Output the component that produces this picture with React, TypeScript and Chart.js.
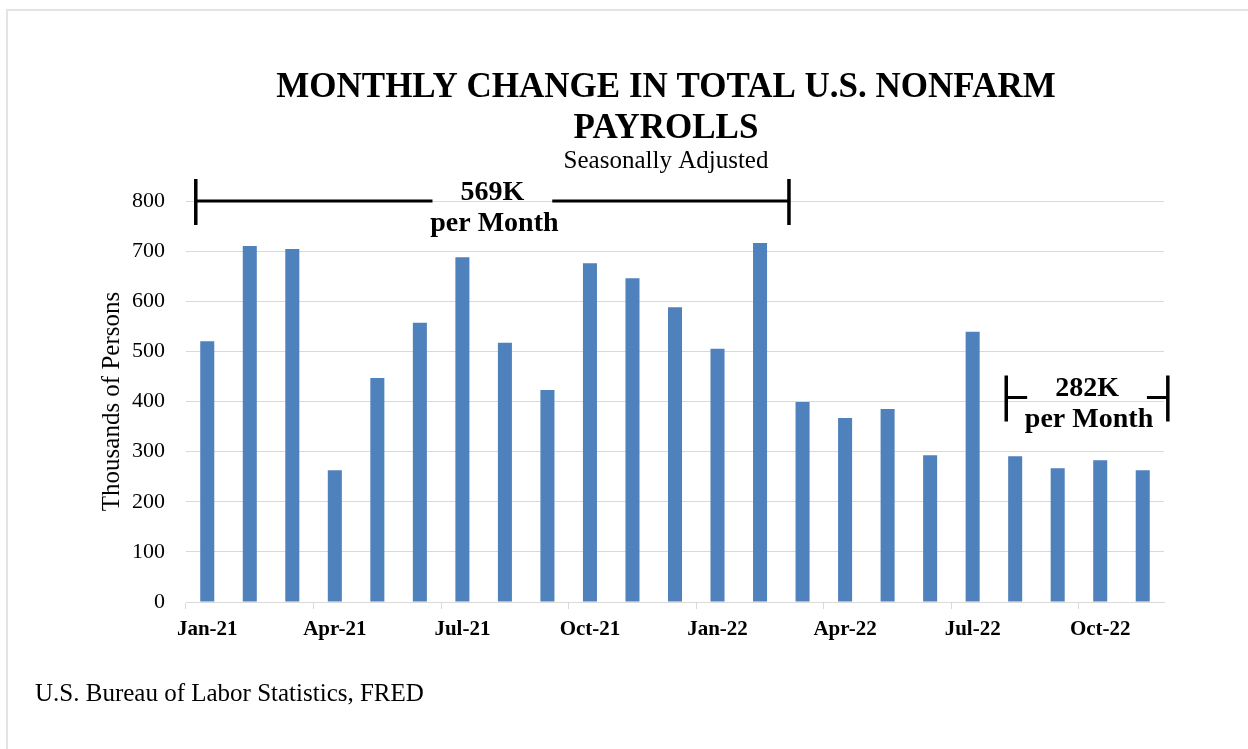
import React, { useEffect, useRef } from "react";
import { Chart, registerables } from "chart.js";

Chart.register(...registerables);

// ---- data ----
const months = [
  "Jan-21", "Feb-21", "Mar-21", "Apr-21", "May-21", "Jun-21", "Jul-21", "Aug-21",
  "Sep-21", "Oct-21", "Nov-21", "Dec-21", "Jan-22", "Feb-22", "Mar-22", "Apr-22",
  "May-22", "Jun-22", "Jul-22", "Aug-22", "Sep-22", "Oct-22", "Nov-22",
];
const payrollChange = [
  520, 710, 704, 263, 447, 557, 688, 517, 423, 676, 646, 588, 505, 716,
  399, 367, 385, 293, 539, 291, 267, 283, 263,
];
const yTicks = [0, 100, 200, 300, 400, 500, 600, 700, 800];
const labelEvery = 3;

const titleLines = ["MONTHLY CHANGE IN TOTAL U.S. NONFARM", "PAYROLLS"];
const subtitleText = "Seasonally Adjusted";
const yTitleText = "Thousands of Persons";
const sourceText = "U.S. Bureau of Labor Statistics, FRED";

// average brackets: span in category units, level in data units
const bracketLabels = ["569K", "282K"];
const bracketSubLabels = ["per Month", "per Month"];
const bracketFrom = [-0.27, 18.79];
const bracketTo = [13.68, 22.59];
const bracketLevel = [800, 408];

const SERIF = '"Liberation Serif", "Times New Roman", serif';

const decorPlugin = {
  id: "decor",
  beforeDraw(chart: any) {
    const ctx = chart.ctx;
    ctx.save();
    ctx.strokeStyle = "#e4e4e4";
    ctx.lineWidth = 2;
    ctx.strokeRect(7, 10, 1400, 900);
    ctx.restore();
  },
  afterDraw(chart: any) {
    const ctx = chart.ctx;
    const xs = chart.scales.x;
    const ys = chart.scales.y;
    ctx.save();
    ctx.fillStyle = "#000";
    ctx.textAlign = "center";
    ctx.textBaseline = "alphabetic";
    // title
    ctx.font = `bold 35px ${SERIF}`;
    ctx.fillText(titleLines[0], 666, 97);
    ctx.fillText(titleLines[1], 666, 138);
    ctx.font = `25px ${SERIF}`;
    ctx.fillText(subtitleText, 666, 168);
    // source
    ctx.textAlign = "left";
    ctx.fillText(sourceText, 35, 701);

    // brackets
    ctx.strokeStyle = "#000";
    ctx.textAlign = "center";
    for (let i = 0; i < bracketLabels.length; i++) {
      const x0 = xs.getPixelForValue(bracketFrom[i]);
      const x1 = xs.getPixelForValue(bracketTo[i]);
      const y = ys.getPixelForValue(bracketLevel[i]);
      const cx = (x0 + x1) / 2;
      ctx.font = `bold 28px ${SERIF}`;
      const tw = ctx.measureText(bracketLabels[i]).width;
      const gap = tw / 2 + 28;
      ctx.lineWidth = 3;
      ctx.beginPath();
      ctx.moveTo(x0, y);
      ctx.lineTo(cx - gap, y);
      ctx.moveTo(cx + gap, y);
      ctx.lineTo(x1, y);
      ctx.stroke();
      ctx.lineWidth = 3.5;
      ctx.beginPath();
      ctx.moveTo(x0, y - 22);
      ctx.lineTo(x0, y + 24);
      ctx.moveTo(x1, y - 22);
      ctx.lineTo(x1, y + 24);
      ctx.stroke();
      ctx.fillText(bracketLabels[i], cx, y - 1);
      ctx.fillText(bracketSubLabels[i], cx + 2, y + 30);
    }
    ctx.restore();
  },
};

export default function App() {
  const ref = useRef<HTMLCanvasElement>(null);
  useEffect(() => {
    document.body.style.margin = "0";
    const chart = new Chart(ref.current!, {
      type: "bar",
      data: {
        labels: months,
        datasets: [
          {
            data: payrollChange,
            backgroundColor: "#4F81BD",
            borderWidth: 0,
            barPercentage: 0.33,
            categoryPercentage: 1.0,
          },
        ],
      },
      options: {
        responsive: false,
        animation: false,
        layout: { padding: { top: 201, right: 84, bottom: 87, left: 0 } },
        plugins: {
          legend: { display: false },
          tooltip: { enabled: false },
          title: { display: false },
        },
        scales: {
          x: {
            offset: true,
            afterFit: (s: any) => {
              s.height = 60;
            },
            grid: {
              offset: true,
              drawOnChartArea: false,
              drawTicks: true,
              tickLength: 7,
              color: (c: any) => (c.index % labelEvery === 0 ? "#d9d9d9" : "rgba(0,0,0,0)"),
            },
            border: { display: true, color: "#d9d9d9", width: 1 },
            ticks: {
              autoSkip: false,
              maxRotation: 0,
              padding: 8,
              color: "#000",
              font: { family: SERIF, size: 21, weight: "bold" },
              callback: (_v: any, i: number) => (i % labelEvery === 0 ? months[i] : ""),
            },
          },
          y: {
            min: yTicks[0],
            max: yTicks[yTicks.length - 1],
            afterFit: (s: any) => {
              s.width = 186;
            },
            afterBuildTicks: (s: any) => {
              s.ticks = yTicks.map((v) => ({ value: v }));
            },
            grid: { color: "#d9d9d9", drawTicks: false },
            border: { display: false },
            ticks: {
              padding: 21,
              color: "#000",
              font: { family: SERIF, size: 22 },
            },
            title: {
              display: true,
              text: yTitleText,
              color: "#000",
              font: { family: SERIF, size: 25 },
              padding: { top: 97, bottom: 0 },
            },
          },
        },
      },
      plugins: [decorPlugin],
    });
    return () => chart.destroy();
  }, []);
  return (
    <div style={{ width: 1248, height: 749 }}>
      <canvas ref={ref} width={1248} height={749} style={{ display: "block" }} />
    </div>
  );
}
